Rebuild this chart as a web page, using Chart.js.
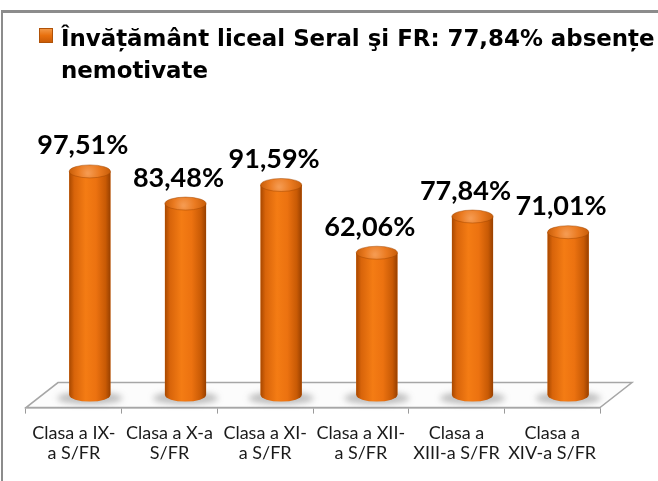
<!DOCTYPE html>
<html><head><meta charset="utf-8">
<script src="https://cdn.jsdelivr.net/npm/chart.js@4.4.1/dist/chart.umd.min.js"></script>
<style>html,body{margin:0;padding:0;background:#fff;overflow:hidden}</style>
</head><body>
<canvas id="c" width="658" height="481"></canvas>
<script>
// ---- data ----
const categories = [
  ["Clasa a IX-", "a S/FR"],
  ["Clasa a X-a", "S/FR"],
  ["Clasa a XI-", "a S/FR"],
  ["Clasa a XII-", "a S/FR"],
  ["Clasa a", "XIII-a S/FR"],
  ["Clasa a", "XIV-a S/FR"]
];
const absentePct = [97.51, 83.48, 91.59, 62.06, 77.84, 71.01];
const seriesLabel = "Învățământ liceal Seral şi FR: 77,84% absențe nemotivate";
const legendLines = ["Învățământ liceal Seral şi FR: 77,84% absențe", "nemotivate"];

// ---- style ----
const depth = {dx: 32, dy: 25};
const fmt = v => v.toFixed(2).replace('.', ',') + '%';

const framePlugin = {
  id: 'frame',
  beforeDraw(chart) {
    const c = chart.ctx;
    c.save();
    c.fillStyle = '#ffffff';
    c.fillRect(0, 0, chart.width, chart.height);
    c.fillStyle = '#8c8c8c';
    c.fillRect(1, 10, chart.width - 1, 3);
    c.fillRect(1, 10, 2, chart.height - 10);
    c.restore();
  }
};

// two-line legend (marker + series name)
const legendPlugin = {
  id: 'twoLineLegend',
  afterDraw(chart) {
    const c = chart.ctx;
    c.save();
    const bx = 39.5, by = 28.5, bw = 13, bh = 14;
    const g = c.createLinearGradient(0, by, 0, by + bh);
    g.addColorStop(0, '#f39a4a');
    g.addColorStop(0.5, '#e8700e');
    g.addColorStop(1, '#c85a06');
    c.fillStyle = g;
    c.fillRect(bx, by, bw, bh);
    c.strokeStyle = '#b05208';
    c.lineWidth = 1;
    c.strokeRect(bx, by, bw, bh);
    c.font = 'bold 22.9px "DejaVu Sans"';
    c.fillStyle = '#000';
    c.textAlign = 'left';
    c.textBaseline = 'alphabetic';
    legendLines.forEach((t, i) => c.fillText(t, 61, 45.6 + i * 32));
    c.restore();
  }
};

const cylPlugin = {
  id: 'cyl',
  beforeDatasetsDraw(chart) {
    const c = chart.ctx, a = chart.chartArea;
    const L = a.left, R = a.right, B = a.bottom;
    c.save();
    c.beginPath();
    c.moveTo(L, B); c.lineTo(R, B);
    c.lineTo(R + depth.dx, B - depth.dy);
    c.lineTo(L + depth.dx, B - depth.dy);
    c.closePath();
    c.fillStyle = '#fcfcfc';
    c.fill();
    c.strokeStyle = '#a6a6a6';
    c.lineWidth = 1.5;
    c.stroke();
    c.restore();

    c.save();
    c.translate(depth.dx / 2, -depth.dy / 2);
    const meta = chart.getDatasetMeta(0);
    meta.data.forEach(bar => {
      c.save();
      c.filter = 'blur(3px)';
      c.fillStyle = 'rgba(70,70,70,0.35)';
      c.beginPath();
      c.ellipse(bar.x, bar.base + 3, bar.width / 2 + 12, 6, 0, 0, Math.PI * 2);
      c.fill();
      c.restore();
    });
  },
  afterDatasetsDraw(chart) {
    const c = chart.ctx;
    const meta = chart.getDatasetMeta(0);
    const vals = chart.data.datasets[0].data;
    const ry = 6.5;
    meta.data.forEach((bar, i) => {
      const w = bar.width, x0 = bar.x - w / 2, x1 = bar.x + w / 2;
      const g = c.createLinearGradient(x0, 0, x1, 0);
      g.addColorStop(0, '#a84800');
      g.addColorStop(0.12, '#d8640a');
      g.addColorStop(0.4, '#f47c14');
      g.addColorStop(0.65, '#ec7210');
      g.addColorStop(0.88, '#c85a05');
      g.addColorStop(1, '#984000');
      c.save();
      c.beginPath();
      c.moveTo(x0, bar.y);
      c.lineTo(x0, bar.base);
      c.ellipse(bar.x, bar.base, w / 2, ry, 0, Math.PI, 0, true);
      c.lineTo(x1, bar.y);
      c.closePath();
      c.fillStyle = g;
      c.fill();
      const rg = c.createRadialGradient(bar.x - 2, bar.y + 2, 1, bar.x, bar.y, w / 2);
      rg.addColorStop(0, '#f59a50');
      rg.addColorStop(0.5, '#ea7a20');
      rg.addColorStop(1, '#c85e0a');
      c.beginPath();
      c.ellipse(bar.x, bar.y, w / 2, ry, 0, 0, Math.PI * 2);
      c.fillStyle = rg;
      c.fill();
      c.strokeStyle = 'rgba(160,70,0,0.6)';
      c.lineWidth = 0.8;
      c.stroke();
      c.font = 'bold 27px Lato';
      c.fillStyle = '#000';
      c.textAlign = 'center';
      c.textBaseline = 'alphabetic';
      c.fillText(fmt(vals[i]), bar.x - 7, bar.y - 17);
      c.restore();
    });
    c.restore();
  }
};

new Chart(document.getElementById('c'), {
  type: 'bar',
  data: {
    labels: categories,
    datasets: [{
      label: seriesLabel,
      data: absentePct,
      backgroundColor: '#e8700e',
      borderWidth: 0,
      barPercentage: 0.43,
      categoryPercentage: 1,
      clip: false
    }]
  },
  options: {
    responsive: false,
    animation: false,
    devicePixelRatio: 1,
    layout: {padding: {top: 80, left: 26, right: 58, bottom: 8}},
    plugins: {
      tooltip: {enabled: false},
      legend: {display: false}
    },
    scales: {
      x: {
        grid: {display: true, drawOnChartArea: false, drawTicks: true, tickLength: 6, color: '#9a9a9a', offset: true},
        border: {display: true, color: '#9a9a9a', width: 1.5},
        ticks: {font: {family: 'Lato', size: 18, lineHeight: 1.15}, color: '#1a1a1a', padding: 9, autoSkip: false, maxRotation: 0}
      },
      y: {display: false, min: 0, max: 142.8}
    }
  },
  plugins: [framePlugin, legendPlugin, cylPlugin]
});
</script>
</body></html>
